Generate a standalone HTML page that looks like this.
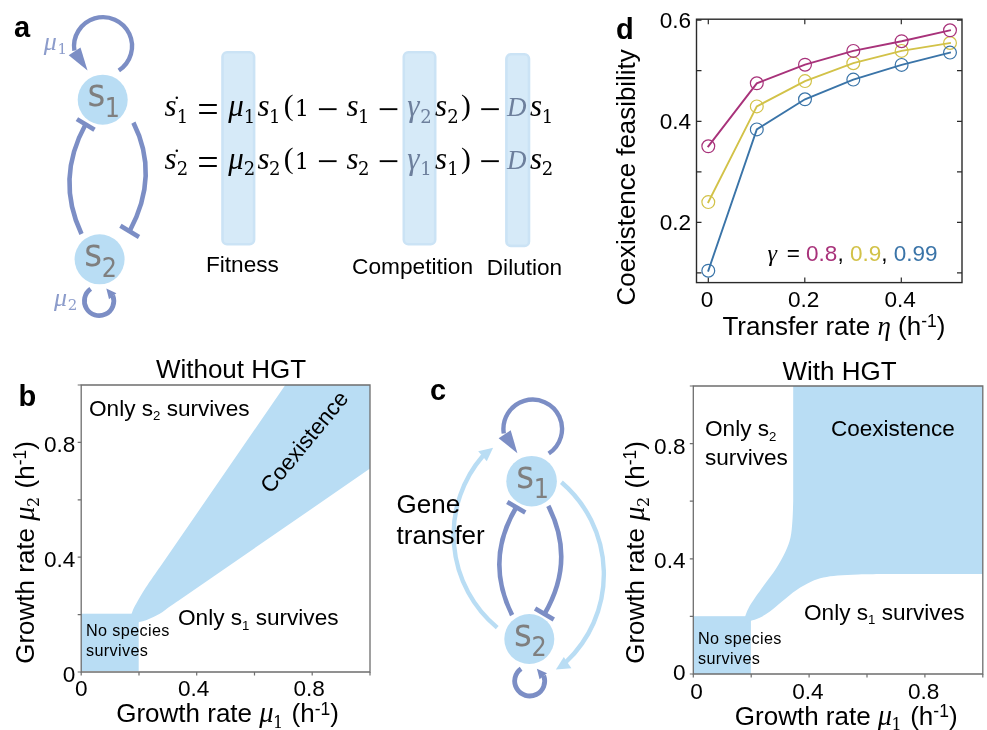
<!DOCTYPE html>
<html lang="en"><head><meta charset="utf-8"><title>Figure</title>
<style>
html,body{margin:0;padding:0;background:#fff;}
svg{display:block}
text{font-family:"Liberation Sans",Arial,sans-serif;fill:#000}
.b{font-weight:bold}
.m{font-family:"Liberation Serif","DejaVu Serif",serif;font-style:italic}
.mr{font-family:"Liberation Serif","DejaVu Serif",serif}
.d{font-family:"DejaVu Serif","Liberation Serif",serif}
.op{font-family:"Liberation Serif","DejaVu Serif",serif}
.c{font-family:"DejaVu Sans Condensed","DejaVu Sans","Liberation Sans",sans-serif;font-stretch:condensed}
</style></head><body>
<svg width="987" height="730" viewBox="0 0 987 730">
<rect width="987" height="730" fill="#fff"/>

<g id="panel-a">
<text class="b" x="14" y="36.5" font-size="29">a</text>
<rect x="222.5" y="52.3" width="31.6" height="191.9" rx="4.5" fill="#d6eaf8" stroke="#cbe3f5" stroke-width="2.6"/>
<rect x="403.8" y="52.3" width="31.4" height="191.9" rx="4.5" fill="#d6eaf8" stroke="#cbe3f5" stroke-width="2.6"/>
<rect x="506.4" y="54.3" width="22.6" height="191.6" rx="4.5" fill="#d6eaf8" stroke="#cbe3f5" stroke-width="2.6"/>
<path d="M118.8 70.5A29 29 0 1 0 74.4 50.7" fill="none" stroke="#7c8ec5" stroke-width="4.4"/>
<polygon points="87.5,70.5 68.7,55.3 80.5,47.6" fill="#7c8ec5"/>
<circle cx="102.7" cy="99.7" r="25" fill="#b9ddf4"/>
<circle cx="99.6" cy="259.3" r="25" fill="#b9ddf4"/>
<path d="M81.5 234Q55.5 179 85.5 124.5" fill="none" stroke="#7c8ec5" stroke-width="4.6"/>
<path d="M76.9 119.1L94.5 129.8" fill="none" stroke="#7c8ec5" stroke-width="4.6"/>
<path d="M133.4 122.6Q159.8 175 129.7 231" fill="none" stroke="#7c8ec5" stroke-width="4.6"/>
<path d="M120.4 225.8L139 236.9" fill="none" stroke="#7c8ec5" stroke-width="4.6"/>
<path d="M90.7 288.9A14.7 14.7 0 1 0 112.8 295.6" fill="none" stroke="#7c8ec5" stroke-width="4.8"/>
<polygon points="106.3,288.6 116.4,293.2 109,299.2" fill="#7c8ec5"/>
<text class="c" x="87.4" y="106.3" font-size="38" style="fill:#7f7f7f">s<tspan x="104.8" y="116.8" font-size="26.5">1</tspan></text>
<text class="c" x="84.3" y="266.2" font-size="38" style="fill:#7f7f7f">s<tspan x="101.7" y="276.7" font-size="26.5">2</tspan></text>
<text class="m" x="43.8" y="50" font-size="26" style="fill:#8c9ccb">μ<tspan class="d" dx="0.6" dy="4.3" font-size="15" font-style="normal">1</tspan></text>
<text class="m" x="54" y="305.8" font-size="26" style="fill:#8c9ccb">μ<tspan class="d" dx="0.6" dy="4" font-size="15" font-style="normal">2</tspan></text>
<text text-anchor="middle" y="116"><tspan class="m" x="170.5" y="116" font-size="31">s</tspan><tspan class="d" x="182.4" y="122.5" font-size="18">1</tspan><tspan class="op" x="208" y="122" font-size="38">=</tspan><tspan class="m" x="236.1" y="116" font-size="31">μ</tspan><tspan class="d" x="249.5" y="122.5" font-size="18">1</tspan><tspan class="m" x="263.6" y="116" font-size="31">s</tspan><tspan class="d" x="274.8" y="122.5" font-size="18">1</tspan><tspan class="op" x="288.6" y="115.2" font-size="29.5">(</tspan><tspan class="d" x="301.9" y="116" font-size="22.5">1</tspan><tspan class="op" x="327.8" y="121.7" font-size="38">−</tspan><tspan class="m" x="352.5" y="116" font-size="31">s</tspan><tspan class="d" x="363.8" y="122.5" font-size="18">1</tspan><tspan class="op" x="388.4" y="121.7" font-size="38">−</tspan><tspan class="m" x="413.4" y="116" font-size="31" style="fill:#6d7f9c">γ</tspan><tspan class="d" x="426.1" y="122.5" font-size="18" style="fill:#6d7f9c">2</tspan><tspan class="m" x="441" y="116" font-size="31">s</tspan><tspan class="d" x="452.9" y="122.5" font-size="18">2</tspan><tspan class="op" x="465.8" y="115.2" font-size="29.5">)</tspan><tspan class="op" x="490" y="121.7" font-size="38">−</tspan><tspan class="m" x="516.8" y="116" font-size="27" style="fill:#6d7f9c">D</tspan><tspan class="m" x="536.1" y="116" font-size="31">s</tspan><tspan class="d" x="547.4" y="122.5" font-size="18">1</tspan></text>
<text text-anchor="middle" y="168.5"><tspan class="m" x="170.5" y="168.5" font-size="31">s</tspan><tspan class="d" x="182.4" y="175.0" font-size="18">2</tspan><tspan class="op" x="208" y="174.5" font-size="38">=</tspan><tspan class="m" x="236.1" y="168.5" font-size="31">μ</tspan><tspan class="d" x="249.5" y="175.0" font-size="18">2</tspan><tspan class="m" x="263.6" y="168.5" font-size="31">s</tspan><tspan class="d" x="274.8" y="175.0" font-size="18">2</tspan><tspan class="op" x="288.6" y="167.7" font-size="29.5">(</tspan><tspan class="d" x="301.9" y="168.5" font-size="22.5">1</tspan><tspan class="op" x="327.8" y="174.2" font-size="38">−</tspan><tspan class="m" x="352.5" y="168.5" font-size="31">s</tspan><tspan class="d" x="363.8" y="175.0" font-size="18">2</tspan><tspan class="op" x="388.4" y="174.2" font-size="38">−</tspan><tspan class="m" x="413.4" y="168.5" font-size="31" style="fill:#6d7f9c">γ</tspan><tspan class="d" x="426.1" y="175.0" font-size="18" style="fill:#6d7f9c">1</tspan><tspan class="m" x="441" y="168.5" font-size="31">s</tspan><tspan class="d" x="452.9" y="175.0" font-size="18">1</tspan><tspan class="op" x="465.8" y="167.7" font-size="29.5">)</tspan><tspan class="op" x="490" y="174.2" font-size="38">−</tspan><tspan class="m" x="516.8" y="168.5" font-size="27" style="fill:#6d7f9c">D</tspan><tspan class="m" x="536.1" y="168.5" font-size="31">s</tspan><tspan class="d" x="547.4" y="175.0" font-size="18">2</tspan></text>
<circle cx="176.8" cy="97.8" r="1.25" fill="#000"/><circle cx="176.8" cy="150.8" r="1.25" fill="#000"/>
<text x="206" y="271.7" font-size="22.6">Fitness</text>
<text x="352" y="273.5" font-size="22.7">Competition</text>
<text x="486.8" y="274.5" font-size="22.6">Dilution</text>
</g>
<g id="panel-d">
<text class="b" x="616.1" y="38.8" font-size="29">d</text>
<rect x="696.5" y="19.2" width="265.5" height="263.40000000000003" fill="none" stroke="#2a2a2a" stroke-width="1.4"/>
<path d="M708.3 282.6v-5M708.3 19.2v5" stroke="#2a2a2a" stroke-width="1.2"/>
<text x="707.1" y="307" font-size="22.6" text-anchor="middle">0</text>
<path d="M804.8 282.6v-5M804.8 19.2v5" stroke="#2a2a2a" stroke-width="1.2"/>
<text x="803.6" y="307" font-size="22.6" text-anchor="middle">0.2</text>
<path d="M901.3 282.6v-5M901.3 19.2v5" stroke="#2a2a2a" stroke-width="1.2"/>
<text x="900.1" y="307" font-size="22.6" text-anchor="middle">0.4</text>
<path d="M696.5 272.9h5M962 272.9h-5" stroke="#2a2a2a" stroke-width="1.2"/>
<path d="M696.5 222.4h5M962 222.4h-5" stroke="#2a2a2a" stroke-width="1.2"/>
<path d="M696.5 171.8h5M962 171.8h-5" stroke="#2a2a2a" stroke-width="1.2"/>
<path d="M696.5 121.3h5M962 121.3h-5" stroke="#2a2a2a" stroke-width="1.2"/>
<path d="M696.5 70.7h5M962 70.7h-5" stroke="#2a2a2a" stroke-width="1.2"/>
<path d="M696.5 20.2h5M962 20.2h-5" stroke="#2a2a2a" stroke-width="1.2"/>
<text x="691.2" y="229.8" font-size="22.6" text-anchor="end">0.2</text>
<text x="691.2" y="128.7" font-size="22.6" text-anchor="end">0.4</text>
<text x="691.2" y="27.6" font-size="22.6" text-anchor="end">0.6</text>
<polyline points="708.3,202.1 756.8,106.4 805,81.1 853.3,63.2 901.6,50.9 950,43.0" fill="none" stroke="#d2c248" stroke-width="1.9" stroke-linecap="square"/>
<circle cx="708.3" cy="202.1" r="6.4" fill="none" stroke="#d2c248" stroke-width="1.2"/>
<circle cx="756.8" cy="106.4" r="6.4" fill="none" stroke="#d2c248" stroke-width="1.2"/>
<circle cx="805" cy="81.1" r="6.4" fill="none" stroke="#d2c248" stroke-width="1.2"/>
<circle cx="853.3" cy="63.2" r="6.4" fill="none" stroke="#d2c248" stroke-width="1.2"/>
<circle cx="901.6" cy="50.9" r="6.4" fill="none" stroke="#d2c248" stroke-width="1.2"/>
<circle cx="950" cy="43.0" r="6.4" fill="none" stroke="#d2c248" stroke-width="1.2"/>
<polyline points="708.3,270.7 756.8,129.4 805,99.3 853.3,79.6 901.6,64.9 950,52.6" fill="none" stroke="#3a74a8" stroke-width="1.9" stroke-linecap="square"/>
<circle cx="708.3" cy="270.7" r="6.4" fill="none" stroke="#3a74a8" stroke-width="1.2"/>
<circle cx="756.8" cy="129.4" r="6.4" fill="none" stroke="#3a74a8" stroke-width="1.2"/>
<circle cx="805" cy="99.3" r="6.4" fill="none" stroke="#3a74a8" stroke-width="1.2"/>
<circle cx="853.3" cy="79.6" r="6.4" fill="none" stroke="#3a74a8" stroke-width="1.2"/>
<circle cx="901.6" cy="64.9" r="6.4" fill="none" stroke="#3a74a8" stroke-width="1.2"/>
<circle cx="950" cy="52.6" r="6.4" fill="none" stroke="#3a74a8" stroke-width="1.2"/>
<polyline points="708.3,146.3 756.8,83.3 805,64.7 853.3,50.9 901.6,41.2 950,30.3" fill="none" stroke="#a8327a" stroke-width="1.9" stroke-linecap="square"/>
<circle cx="708.3" cy="146.3" r="6.4" fill="none" stroke="#a8327a" stroke-width="1.2"/>
<circle cx="756.8" cy="83.3" r="6.4" fill="none" stroke="#a8327a" stroke-width="1.2"/>
<circle cx="805" cy="64.7" r="6.4" fill="none" stroke="#a8327a" stroke-width="1.2"/>
<circle cx="853.3" cy="50.9" r="6.4" fill="none" stroke="#a8327a" stroke-width="1.2"/>
<circle cx="901.6" cy="41.2" r="6.4" fill="none" stroke="#a8327a" stroke-width="1.2"/>
<circle cx="950" cy="30.3" r="6.4" fill="none" stroke="#a8327a" stroke-width="1.2"/>
<text x="786.7" y="261.3" font-size="22.5">= <tspan style="fill:#a8327a">0.8</tspan>, <tspan style="fill:#d2c248">0.9</tspan>, <tspan style="fill:#3a74a8">0.99</tspan></text>
<text class="m" x="767.5" y="260.8" font-size="24">γ</text>
<text transform="translate(634.6,305.4) rotate(-90)" font-size="25.9">Coexistence feasibility</text>
<text x="722.4" y="335" font-size="26">Transfer rate <tspan class="m" font-size="27">η</tspan> (h<tspan dy="-7.7" font-size="17.5">-1</tspan><tspan dy="7.7">)</tspan></text>
</g>
<g id="panel-b">
<rect x="81" y="613.7" width="57.7" height="57.3" fill="#b9ddf4"/>
<path d="M130 617L131.7 613.6C132.0 612.8 132.7 610.4 133.6 608.5C134.5 606.6 135.0 605.7 137.0 602.2C139.0 598.7 142.0 593.5 145.8 587.6C149.6 581.7 157.6 570.4 160.0 567.0L285.3 385H370V468.6L178 601C176.8 601.8 173.7 603.8 170.6 606.0C167.5 608.2 163.1 611.8 159.3 614.0C155.5 616.2 151.3 618.1 147.9 619.4C144.5 620.7 140.5 621.6 139.0 622.0L136 624Z" fill="#b9ddf4"/>
<path d="M81.2 672V385H370V672Z" fill="none" stroke="#6e6e6e" stroke-width="1.3"/>
<path d="M81.2 672v3.5M81.2 672.0h-3.5" stroke="#6e6e6e" stroke-width="1.2"/>
<path d="M139.0 672v3.5M81.2 614.6h-3.5" stroke="#6e6e6e" stroke-width="1.2"/>
<path d="M196.7 672v3.5M81.2 557.2h-3.5" stroke="#6e6e6e" stroke-width="1.2"/>
<path d="M254.5 672v3.5M81.2 499.8h-3.5" stroke="#6e6e6e" stroke-width="1.2"/>
<path d="M312.2 672v3.5M81.2 442.4h-3.5" stroke="#6e6e6e" stroke-width="1.2"/>
<path d="M370.0 672v3.5M81.2 385.0h-3.5" stroke="#6e6e6e" stroke-width="1.2"/>
<text x="81.2" y="695.8" font-size="22.6" text-anchor="middle">0</text>
<text x="75.4" y="681.6" font-size="22.6" text-anchor="end">0</text>
<text x="193.7" y="695.8" font-size="22.6" text-anchor="middle">0.4</text>
<text x="75.4" y="566.8" font-size="22.6" text-anchor="end">0.4</text>
<text x="309.2" y="695.8" font-size="22.6" text-anchor="middle">0.8</text>
<text x="75.4" y="452.0" font-size="22.6" text-anchor="end">0.8</text>
<text class="b" x="18.6" y="406.2" font-size="29">b</text>
<text x="231" y="378.2" font-size="26" text-anchor="middle">Without HGT</text>
<text transform="translate(116.2,722.2)" font-size="26"><tspan x="0" y="0">Growth rate</tspan><tspan class="m" x="143.0" y="0" font-size="28.5">μ</tspan><tspan class="d" x="156.7" y="5.3" font-size="16">1</tspan><tspan x="175.4" y="0">(h</tspan><tspan dx="0" y="-7.7" font-size="17.5">-1</tspan><tspan dx="0" y="0">)</tspan></text>
<text transform="translate(33.7,663.8) rotate(-90)" font-size="26"><tspan x="0" y="0">Growth rate</tspan><tspan class="m" x="143.0" y="0" font-size="28.5">μ</tspan><tspan class="d" x="156.7" y="5.3" font-size="16">2</tspan><tspan x="175.4" y="0">(h</tspan><tspan dx="0" y="-7.7" font-size="17.5">-1</tspan><tspan dx="0" y="0">)</tspan></text>
<text x="89" y="415.5" font-size="22.6">Only s<tspan dy="4.5" font-size="13.2">2</tspan><tspan dy="-4.5"> </tspan>survives</text>
<text x="178" y="625" font-size="22.6">Only s<tspan dy="4.5" font-size="13.2">1</tspan><tspan dy="-4.5"> </tspan>survives</text>
<text transform="translate(270.7,494.5) rotate(-50.5)" font-size="22.5">Coexistence</text>
<text x="86" y="636" font-size="16.2" letter-spacing="0.37">No species</text>
<text x="86" y="656" font-size="16.2" letter-spacing="0.37">survives</text>
</g>
<g id="panel-c-diagram">
<path d="M548.7 453.5A29.3 29.3 0 1 0 503.8 433.5" fill="none" stroke="#7c8ec5" stroke-width="4.4"/>
<polygon points="517.4,453.2 498.6,438.3 510.7,430.2" fill="#7c8ec5"/>
<circle cx="531.6" cy="481.2" r="25.3" fill="#b9ddf4"/>
<circle cx="529.3" cy="639" r="25" fill="#b9ddf4"/>
<path d="M512.1 615.1Q484.6 560 516.3 507.3" fill="none" stroke="#7c8ec5" stroke-width="4.6"/>
<path d="M507.3 502L525.3 512.5" fill="none" stroke="#7c8ec5" stroke-width="4.6"/>
<path d="M548.3 505.9Q576 560 544.5 614" fill="none" stroke="#7c8ec5" stroke-width="4.6"/>
<path d="M535.1 608.5L553.8 619.5" fill="none" stroke="#7c8ec5" stroke-width="4.6"/>
<path d="M521.1 668.7A15 15 0 1 0 543.7 675.6" fill="none" stroke="#7c8ec5" stroke-width="4.8"/>
<polygon points="536.9,668.7 547,673.3 539.6,679.3" fill="#7c8ec5"/>
<path d="M497.2 627.6A120.8 120.8 0 0 1 483 455.7" fill="none" stroke="#b9ddf4" stroke-width="4.4"/>
<polygon points="493.1,447.7 478.2,451.3 486.8,461.2" fill="#b9ddf4"/>
<path d="M561.4 482.3A120.7 120.7 0 0 1 566 662" fill="none" stroke="#b9ddf4" stroke-width="4.4"/>
<polygon points="555.9,669.6 571.4,668.3 563.8,657.1" fill="#b9ddf4"/>
<text class="c" x="516.3" y="487.8" font-size="38" style="fill:#7f7f7f">s<tspan x="533.7" y="498.3" font-size="26.5">1</tspan></text>
<text class="c" x="514.0" y="645.9" font-size="38" style="fill:#7f7f7f">s<tspan x="531.4" y="656.4" font-size="26.5">2</tspan></text>
<text x="396.6" y="512.7" font-size="26">Gene</text>
<text x="396.6" y="544" font-size="26">transfer</text>
</g>
<g id="panel-c">
<rect x="693.3" y="616.2" width="57.6" height="57.8" fill="#b9ddf4"/>
<path d="M744 619L745.3 615.9C745.8 614.6 746.7 611.5 748.4 608.4C750.1 605.3 752.6 601.4 755.5 597.1C758.4 592.8 762.4 587.5 765.8 582.7C769.2 577.9 772.9 573.5 776.1 568.4C779.4 563.3 782.9 557.0 785.3 551.9C787.7 546.8 789.3 542.6 790.5 537.5C791.7 532.4 791.9 527.3 792.4 521.1C792.9 514.9 793.1 503.9 793.2 500.5V386H982.8V574L885 574.1C880.5 574.2 866.2 574.3 858.3 574.5C850.4 574.7 843.5 575.0 837.7 575.5C831.9 576.0 827.9 576.6 823.4 577.6C818.9 578.6 815.5 579.7 811.0 581.7C806.5 583.8 801.4 586.6 796.6 589.9C791.8 593.1 786.8 597.6 782.3 601.2C777.8 604.8 773.7 608.8 769.9 611.5C766.1 614.2 762.9 616.2 759.7 617.7C756.6 619.2 752.5 620.2 751.0 620.7L748 622.5Z" fill="#b9ddf4"/>
<path d="M693.3 674V386H982.8V674Z" fill="none" stroke="#6e6e6e" stroke-width="1.3"/>
<path d="M693.3 674v3.5M693.3 674.0h-3.5" stroke="#6e6e6e" stroke-width="1.2"/>
<path d="M751.2 674v3.5M693.3 616.4h-3.5" stroke="#6e6e6e" stroke-width="1.2"/>
<path d="M809.1 674v3.5M693.3 558.8h-3.5" stroke="#6e6e6e" stroke-width="1.2"/>
<path d="M867.0 674v3.5M693.3 501.2h-3.5" stroke="#6e6e6e" stroke-width="1.2"/>
<path d="M924.9 674v3.5M693.3 443.6h-3.5" stroke="#6e6e6e" stroke-width="1.2"/>
<path d="M982.8 674v3.5M693.3 386.0h-3.5" stroke="#6e6e6e" stroke-width="1.2"/>
<text x="696.6" y="698.6999999999999" font-size="22.6" text-anchor="middle">0</text>
<text x="685.5" y="680.1" font-size="22.6" text-anchor="end">0</text>
<text x="807.9" y="698.6999999999999" font-size="22.6" text-anchor="middle">0.4</text>
<text x="685.5" y="568.4" font-size="22.6" text-anchor="end">0.4</text>
<text x="923.7" y="698.6999999999999" font-size="22.6" text-anchor="middle">0.8</text>
<text x="685.5" y="453.8" font-size="22.6" text-anchor="end">0.8</text>
<text class="b" x="430" y="400" font-size="29">c</text>
<text x="839.6" y="380" font-size="26" text-anchor="middle">With HGT</text>
<text transform="translate(734.8,724.8000000000001)" font-size="26"><tspan x="0" y="0">Growth rate</tspan><tspan class="m" x="143.0" y="0" font-size="28.5">μ</tspan><tspan class="d" x="156.7" y="5.3" font-size="16">1</tspan><tspan x="175.4" y="0">(h</tspan><tspan dx="0" y="-7.7" font-size="17.5">-1</tspan><tspan dx="0" y="0">)</tspan></text>
<text transform="translate(643.8,663.8) rotate(-90)" font-size="26"><tspan x="0" y="0">Growth rate</tspan><tspan class="m" x="143.0" y="0" font-size="28.5">μ</tspan><tspan class="d" x="156.7" y="5.3" font-size="16">2</tspan><tspan x="175.4" y="0">(h</tspan><tspan dx="0" y="-7.7" font-size="17.5">-1</tspan><tspan dx="0" y="0">)</tspan></text>
<text x="705" y="436.3" font-size="22.6">Only s<tspan dy="4.5" font-size="13.2">2</tspan><tspan dy="-4.5"> </tspan></text>
<text x="705" y="465" font-size="22.6">survives</text>
<text x="804" y="619.7" font-size="22.6">Only s<tspan dy="4.5" font-size="13.2">1</tspan><tspan dy="-4.5"> </tspan>survives</text>
<text x="831" y="436" font-size="22.5">Coexistence</text>
<text x="698" y="643.9" font-size="16.2" letter-spacing="0.37">No species</text>
<text x="698" y="663.9" font-size="16.2" letter-spacing="0.37">survives</text>
</g>
</svg></body></html>
